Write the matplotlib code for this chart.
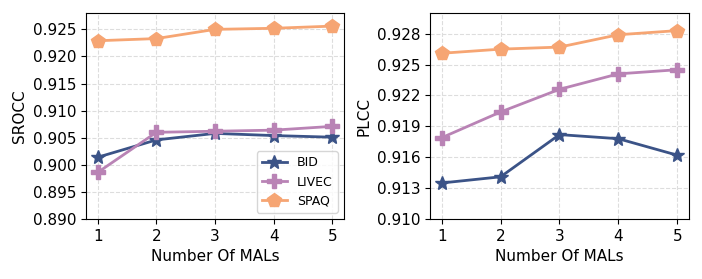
import matplotlib
matplotlib.use('Agg')
import matplotlib.pyplot as plt

mals = [1, 2, 3, 4, 5]

# SROCC values
srocc_bid = [0.9014, 0.9046, 0.9058, 0.9054, 0.9051]
srocc_livec = [0.8986, 0.9060, 0.9062, 0.9064, 0.9071]
srocc_spaq = [0.9229, 0.9233, 0.9250, 0.9252, 0.9256]

# PLCC values
plcc_bid = [0.9135, 0.9141, 0.9182, 0.9178, 0.9162]
plcc_livec = [0.9179, 0.9204, 0.9226, 0.9241, 0.9245]
plcc_spaq = [0.9261, 0.9265, 0.9267, 0.9279, 0.9283]

srocc_ticks = [0.890, 0.895, 0.900, 0.905, 0.910, 0.915, 0.920, 0.925]
plcc_ticks = [0.910, 0.913, 0.916, 0.919, 0.922, 0.925, 0.928]

colors = {'BID': '#3b5387', 'LIVEC': '#b983b5', 'SPAQ': '#f6a573'}
markers = {'BID': '*', 'LIVEC': 'P', 'SPAQ': 'p'}

plt.rcParams['font.size'] = 11

fig = plt.figure(figsize=(7.02, 2.79), dpi=100)
ax1 = fig.add_axes([0.1225, 0.215, 0.3675, 0.738])
ax2 = fig.add_axes([0.6125, 0.215, 0.369, 0.738])


def draw(ax, series, ticks, ylim, ylabel, fmt):
    for name, vals in series:
        ax.plot(mals, vals, color=colors[name], marker=markers[name],
                markersize=10, linewidth=2, label=name)
    ax.set_xlim(0.8, 5.2)
    ax.set_ylim(*ylim)
    ax.set_xticks(mals)
    ax.set_yticks(ticks)
    ax.set_yticklabels([fmt % t for t in ticks])
    ax.set_xlabel('Number Of MALs')
    ax.set_ylabel(ylabel)
    ax.grid(True, linestyle='--', color='#dddddd', linewidth=0.8)
    ax.set_axisbelow(True)


draw(ax1, [('BID', srocc_bid), ('LIVEC', srocc_livec), ('SPAQ', srocc_spaq)],
     srocc_ticks, (0.890, 0.928), 'SROCC', '%.3f')
draw(ax2, [('BID', plcc_bid), ('LIVEC', plcc_livec), ('SPAQ', plcc_spaq)],
     plcc_ticks, (0.910, 0.930), 'PLCC', '%.3f')

ax1.legend(loc='lower right', fontsize=9)

fig.savefig('out.png', dpi=100)
